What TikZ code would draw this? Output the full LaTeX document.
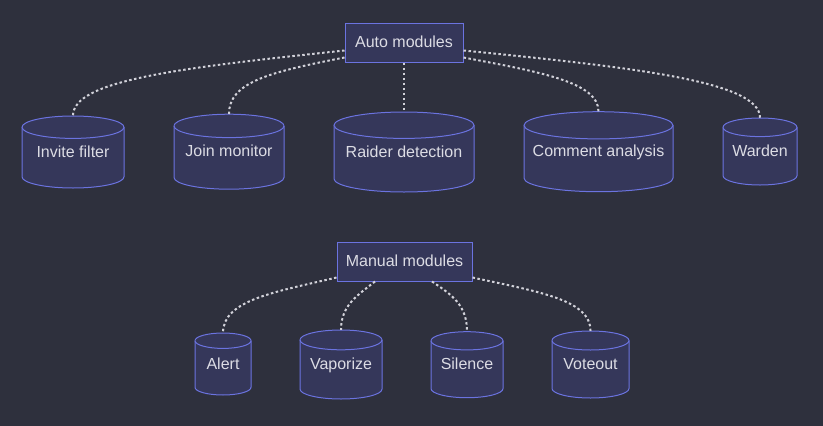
\documentclass[tikz,border=0pt]{standalone}
\usepackage{fontspec}
\setmainfont{Liberation Sans}
\definecolor{bg}{HTML}{2E303D}
\definecolor{boxfill}{HTML}{35375A}
\definecolor{boxline}{HTML}{6B73E0}
\definecolor{txt}{HTML}{DCDCE4}
\definecolor{link}{HTML}{D2D2DA}
% name, x, y, width, height, ry, text
\newcommand\dbnode[7]{%
  \filldraw[dbline]({#2-#4/2},{#3-#5/2+#6})--({#2-#4/2},{#3+#5/2-#6}) arc(180:0:{#4/2} and #6)
    --({#2+#4/2},{#3-#5/2+#6}) arc(0:-180:{#4/2} and #6)--cycle;
  \draw[dbline]({#2-#4/2},{#3-#5/2+#6}) arc(180:0:{#4/2} and #6);
  \node[dbtext,minimum width=#4pt,minimum height=#5pt](#1)at(#2,#3){#7};
}

\begin{document}
\begin{tikzpicture}[x=1pt,y=-1pt,font=\fontsize{16}{19}\selectfont,
    grp/.style={draw=boxline,fill=boxfill,text=txt,line width=1pt,inner sep=0pt,minimum height=39pt,
      text height=12.5pt,text depth=2.5pt},
    dbline/.style={draw=boxline,fill=boxfill,line width=1pt},
    dbtext/.style={text=txt,inner sep=0pt,text height=12.5pt,text depth=2.5pt},
    lnk/.style={draw=link,line width=2pt,dash pattern=on 2.5pt off 2.5pt}]
  \fill[bg](0,0)rectangle(823,426);
  % auto modules
  \node[grp,minimum width=118pt](auto)at(404,42.5){Auto modules};
  \dbnode{invite}{73}{152}{102}{72}{11.2}{Invite filter}
  \dbnode{join}{229}{151.7}{110}{75}{11.7}{Join monitor}
  \dbnode{raider}{404}{152}{140}{80}{13.2}{Raider detection}
  \dbnode{comment}{598.5}{151.7}{149}{80}{13.6}{Comment analysis}
  \dbnode{warden}{760}{151.5}{74}{67}{9.3}{Warden}
  \draw[lnk]([yshift=-8pt]auto.west) .. controls (180,68) and (73,80) .. (invite.north);
  \draw[lnk]([yshift=-15pt]auto.west) .. controls (270,72) and (229,82) .. (join.north);
  \draw[lnk](auto.south)--(raider.north);
  \draw[lnk]([yshift=-15pt]auto.east) .. controls (540,72) and (598.5,82) .. (comment.north);
  \draw[lnk]([yshift=-8pt]auto.east) .. controls (640,68) and (760,82) .. (warden.north);
  % manual modules
  \node[grp,minimum width=135pt](manual)at(404.5,261.5){Manual modules};
  \dbnode{alert}{223}{364}{56}{62}{7.7}{Alert}
  \dbnode{vaporize}{341}{364.5}{82}{69}{9.9}{Vaporize}
  \dbnode{silence}{467}{364.7}{72}{66}{9.1}{Silence}
  \dbnode{voteout}{590.5}{364.5}{77}{67}{9.5}{Voteout}
  \draw[lnk]([yshift=-16pt]manual.west) .. controls (275,292) and (223,300) .. (alert.north);
  \draw[lnk]([xshift=-29.5pt]manual.south) .. controls (358,295) and (341,305) .. (vaporize.north);
  \draw[lnk]([xshift=27.5pt]manual.south) .. controls (452,295) and (467,305) .. (silence.north);
  \draw[lnk]([yshift=-16pt]manual.east) .. controls (540,292) and (590.5,300) .. (voteout.north);
\end{tikzpicture}
\end{document}
